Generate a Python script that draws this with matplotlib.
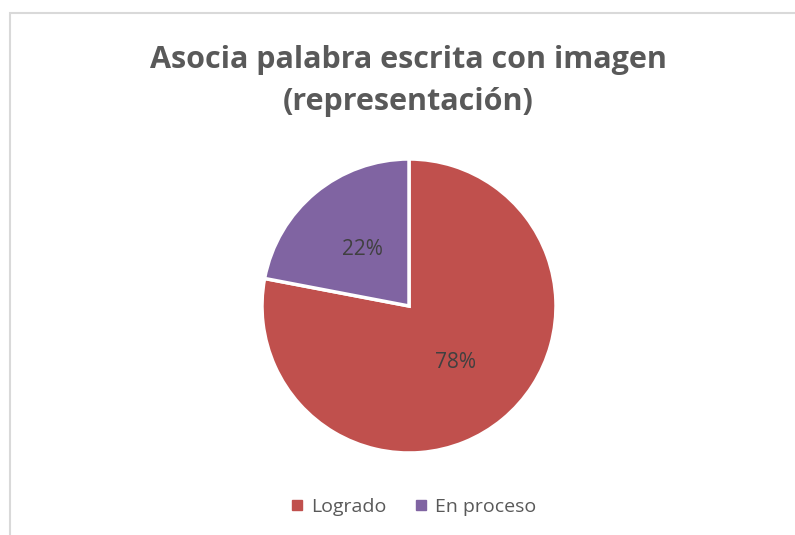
import matplotlib.pyplot as plt
from matplotlib.patches import Rectangle
from matplotlib.lines import Line2D

labels = ["Logrado", "En proceso"]
values = [78, 22]
colors = ["#C0504D", "#8064A2"]

plt.rcParams['font.family'] = ['Open Sans', 'DejaVu Sans']

fig = plt.figure(figsize=(7.95, 5.35), dpi=100)

# light gray chart border (extends past right/bottom edges)
fig.add_artist(Rectangle((10 / 795, -0.05), 1.1, (535 - 13) / 535 + 0.05,
                         transform=fig.transFigure, fill=False,
                         edgecolor="#D9D9D9", linewidth=1.5))

ax = fig.add_axes([262 / 795, (535 - 453) / 535, 294 / 795, 294 / 535])
wedges, texts, autotexts = ax.pie(values, colors=colors, startangle=90, counterclock=False,
                                  autopct='%1.0f%%', pctdistance=0.5, radius=1,
                                  wedgeprops=dict(edgecolor="white", linewidth=2.5),
                                  textprops=dict(color="#404040", fontsize=15))
ax.set_xlim(-1, 1)
ax.set_ylim(-1, 1)
ax.set_aspect('equal')

fig.text(408 / 795, 1 - 60 / 535, "Asocia palabra escrita con imagen",
         ha='center', va='center', fontsize=22, fontweight='bold', color="#595959")
fig.text(408 / 795, 1 - 102 / 535, "(representación)",
         ha='center', va='center', fontsize=22, fontweight='bold', color="#595959")

handles = [Line2D([], [], marker='s', linestyle='', markersize=7, color=c) for c in colors]
fig.legend(handles, labels, loc='center', bbox_to_anchor=(412 / 795, 1 - 507 / 535),
           ncol=2, frameon=False, fontsize=14, labelcolor="#595959",
           handletextpad=0.2, columnspacing=1.3, handlelength=1.0)

fig.savefig("out.png", dpi=100)
